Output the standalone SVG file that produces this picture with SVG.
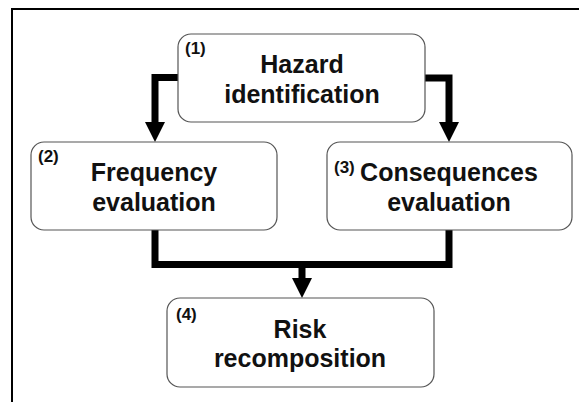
<svg xmlns="http://www.w3.org/2000/svg" width="579" height="402" viewBox="0 0 579 402">
  <style>
    .box { fill: #ffffff; stroke: #555555; stroke-width: 1.2; }
    .main { font-family: "Liberation Sans", Arial, sans-serif; font-weight: bold; font-size: 25px; fill: #111111; text-anchor: middle; }
    .num { font-family: "Liberation Sans", Arial, sans-serif; font-weight: bold; font-size: 17px; fill: #111111; }
    .conn { fill: none; stroke: #000000; stroke-width: 7; }
  </style>
  <defs>
    <marker id="arrow" markerUnits="userSpaceOnUse" markerWidth="22" markerHeight="22" refX="2" refY="10" orient="auto">
      <path d="M0,0 L20,10 L0,20 Z" fill="#000000"/>
    </marker>
  </defs>
  <rect x="0" y="0" width="579" height="402" fill="#ffffff"/>
  <path d="M12,402 V9 H579" fill="none" stroke="#000000" stroke-width="2"/>

  <g id="connectors">
    <path class="conn" d="M178,77.5 H155 V124" marker-end="url(#arrow)"/>
    <path class="conn" d="M425,78 H449 V124" marker-end="url(#arrow)"/>
    <path class="conn" d="M155,230 V264.5 H449 V230"/>
    <path class="conn" d="M302,264.5 V280" marker-end="url(#arrow)"/>
  </g>

  <g id="node1">
    <rect class="box" x="178" y="34" width="247" height="88" rx="13"/>
    <text class="num" x="185" y="54">(1)</text>
    <text class="main" x="302" y="73">Hazard</text>
    <text class="main" x="302" y="103">identification</text>
  </g>

  <g id="node2">
    <rect class="box" x="31" y="142" width="246" height="88" rx="13"/>
    <text class="num" x="38" y="162">(2)</text>
    <text class="main" x="154" y="181">Frequency</text>
    <text class="main" x="154" y="211">evaluation</text>
  </g>

  <g id="node3">
    <rect class="box" x="327" y="142" width="245" height="88" rx="13"/>
    <text class="num" x="334" y="173">(3)</text>
    <text class="main" x="449" y="181">Consequences</text>
    <text class="main" x="449" y="211">evaluation</text>
  </g>

  <g id="node4">
    <rect class="box" x="167" y="298" width="267" height="89" rx="13"/>
    <text class="num" x="176" y="320">(4)</text>
    <text class="main" x="300" y="338">Risk</text>
    <text class="main" x="300" y="367">recomposition</text>
  </g>
</svg>
